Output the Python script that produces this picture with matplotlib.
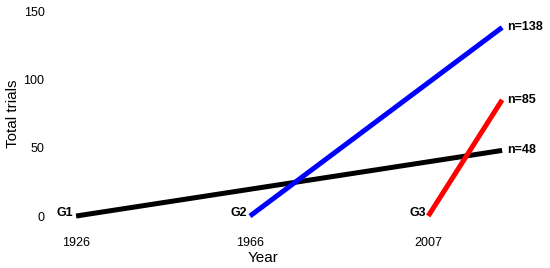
import matplotlib.pyplot as plt

plt.rcParams['font.family'] = ['Liberation Sans', 'DejaVu Sans']

# groups: start year, end year, end value
groups = ['G1', 'G2', 'G3']
start_years = [1926, 1966, 2007]
end_year = 2024
end_trials = [48, 138, 85]
colors = ['black', '#0000ff', '#ff0000']
yticks = [0, 50, 100, 150]

fig = plt.figure(figsize=(5.5, 2.68), dpi=100)
ax = fig.add_axes([0.0909, 0.179, 0.8545, 0.791])

for g, x0, n, c in zip(groups, start_years, end_trials, colors):
    ax.plot([x0, end_year], [0, n], color=c, lw=3.6, solid_capstyle='butt', clip_on=False)
    ax.text(x0 - 0.6, 2.5, g, ha='right', va='center', fontsize=9, fontweight='bold')
    ax.text(end_year + 1.2, n, f'n={n}', ha='left', va='center', fontsize=9, fontweight='bold')

ax.set_xlim(1920, 2028.1)
ax.set_ylim(-2.93, 152.2)
ax.set_xticks(start_years)
ax.set_yticks(yticks)
ax.tick_params(axis='both', length=0, labelsize=9)
ax.tick_params(axis='x', pad=12)
ax.tick_params(axis='y', pad=4)
for s in ax.spines.values():
    s.set_visible(False)

ax.set_xlabel('Year', fontsize=11)
ax.xaxis.set_label_coords(0.453, -0.145)
ax.set_ylabel('Total trials', fontsize=11)
ax.yaxis.set_label_coords(-0.064, 0.5)

fig.savefig('out.png', dpi=100)
